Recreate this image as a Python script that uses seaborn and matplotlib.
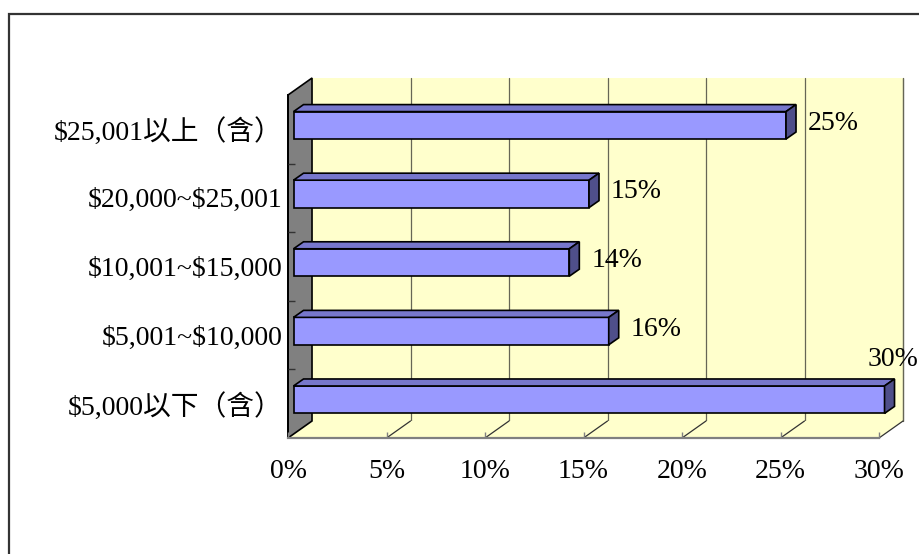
import matplotlib
matplotlib.use("Agg")
import matplotlib.pyplot as plt
import matplotlib.transforms as mtransforms
from matplotlib.patches import Polygon, Rectangle
from matplotlib.ticker import FixedLocator, PercentFormatter
import numpy as np
import pandas as pd
import seaborn as sns

# data
categories = ['$25,001以上（含）', '$20,000~$25,001', '$10,001~$15,000',
              '$5,001~$10,000', '$5,000以下（含）']
shares = [25, 15, 14, 16, 30]
value_labels = ['25%', '15%', '14%', '16%', '30%']
x_ticks = [0, 5, 10, 15, 20, 25, 30]

sns.set_style('white')
plt.rcParams['font.family'] = ['Liberation Serif', 'Noto Sans CJK TC', 'DejaVu Sans']
plt.rcParams['text.parse_math'] = False
plt.rcParams['text.color'] = 'black'
plt.rcParams['xtick.labelcolor'] = 'black'
plt.rcParams['ytick.labelcolor'] = 'black'

df = pd.DataFrame({'range': categories, 'share': shares})

fig = plt.figure(figsize=(9.19, 5.54), dpi=100)
ax = fig.add_axes([0.3134, 0.2094, 0.6431, 0.6191])

sns.barplot(data=df, y='range', x='share', orient='h', color='#9999FF',
            saturation=1, edgecolor='black', linewidth=1.2, width=0.4, ax=ax)

ax.set_xlim(0, 30)
ax.set_ylim(4.5, -0.5)
ax.set_xlabel('')
ax.set_ylabel('')
ax.set_xticks(x_ticks)
ax.xaxis.set_major_formatter(PercentFormatter(100, decimals=0))
ax.yaxis.set_minor_locator(FixedLocator([0.5, 1.5, 2.5, 3.5]))
ax.patch.set_visible(False)
ax.set_axisbelow(False)
for s in ['top', 'right']:
    ax.spines[s].set_visible(False)
ax.spines['left'].set_color('black')
ax.spines['left'].set_linewidth(1.4)
ax.spines['bottom'].set_color('#808080')
ax.spines['bottom'].set_linewidth(1.6)
ax.tick_params(axis='y', which='major', length=0, pad=4, labelsize=20,
               labelcolor='black')
ax.tick_params(axis='y', which='minor', direction='in', length=5,
               width=1, color='#333333', left=True)
ax.tick_params(axis='x', direction='in', length=4, width=1, color='#808080',
               pad=15, labelsize=20, labelcolor='black', bottom=True)

# 3D look: depth of the walls, shift and depth of the bars (pixels)
D = np.array([24, 17])
bar_shift = np.array([5.5, 4])
bar_depth = np.array([10, 7])
ident = mtransforms.IdentityTransform()


def face(pts, **kw):
    ax.add_patch(Polygon(pts, closed=True, transform=ident, clip_on=False, **kw))


def line(p, q, **kw):
    ax.plot([p[0], q[0]], [p[1], q[1]], transform=ident, clip_on=False, **kw)


ta = ax.transAxes
tx = ax.get_xaxis_transform()
c00, c10, c11, c01 = ta.transform([(0, 0), (1, 0), (1, 1), (0, 1)])

# back wall + grid
face([c00 + D, c10 + D, c11 + D, c01 + D], facecolor='#FFFFCC', edgecolor='none', zorder=0)
line(c10 + D, c11 + D, color='#808080', lw=0.9, zorder=0.2)
for t in x_ticks[1:]:
    b, tp = tx.transform([(t, 0), (t, 1)])
    line(b + D, tp + D, color='#666655', lw=0.9, zorder=0.3)

# floor
face([c00, c10, c10 + D, c00 + D], facecolor='#FFFFCC', edgecolor='none', zorder=0.5)
for t in x_ticks[1:]:
    b = tx.transform((t, 0))
    line(b, b + D, color='#333333', lw=0.9, zorder=0.6)

# left wall
face([c00, c01, c01 + D, c00 + D], facecolor='#808080', edgecolor='black',
     lw=1.2, zorder=1)

# bars with top and side faces
shift = mtransforms.offset_copy(ax.transData, fig=fig, x=bar_shift[0],
                                y=bar_shift[1], units='dots')
fig_w = fig.get_size_inches()[0] * fig.dpi
for p, lab in zip(ax.patches, value_labels):
    p.set_transform(shift)
    p.set_clip_on(False)
    p.set_zorder(3)
    (xa, ya), (xb, yb) = shift.transform([(p.get_x(), p.get_y()),
                                          (p.get_x() + p.get_width(), p.get_y() + p.get_height())])
    x0, x1 = min(xa, xb), max(xa, xb)
    y0, y1 = min(ya, yb), max(ya, yb)
    face([(x0, y1), (x1, y1), (x1 + bar_depth[0], y1 + bar_depth[1]),
          (x0 + bar_depth[0], y1 + bar_depth[1])],
         facecolor='#7777CC', edgecolor='black', lw=1.2, zorder=3)
    face([(x1, y0), (x1, y1), (x1 + bar_depth[0], y1 + bar_depth[1]),
          (x1 + bar_depth[0], y0 + bar_depth[1])],
         facecolor='#4F4F8A', edgecolor='black', lw=1.2, zorder=3)
    if x1 + 80 > fig_w:
        ax.text(x1 + 8, y1 + bar_depth[1] + 7, lab, ha='center', va='bottom',
                fontsize=20, transform=ident, clip_on=False, zorder=4)
    else:
        ax.text(x1 + bar_depth[0] + 12, (y0 + y1) / 2 + 2, lab, ha='left',
                va='center', fontsize=20, transform=ident, clip_on=False, zorder=4)

# outer chart frame (only left and top edges visible)
fig.add_artist(Rectangle((8.5 / 919, -0.1), 2, 0.1 + 1 - 14.5 / 554,
                         transform=fig.transFigure, fill=False,
                         edgecolor='#333333', lw=1.6))

fig.savefig('out.png', dpi=100)
